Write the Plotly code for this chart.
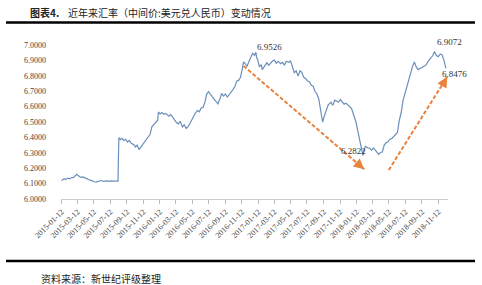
import plotly.graph_objects as go

# ---------------- data ----------------
dates_2015 = ["2015-01-12","2015-01-16","2015-01-22","2015-01-28","2015-02-04","2015-02-11","2015-02-17","2015-02-26",
              "2015-03-04","2015-03-09","2015-03-13","2015-03-19","2015-03-25","2015-04-01","2015-04-08","2015-04-15",
              "2015-04-22","2015-04-29","2015-05-06","2015-05-13","2015-05-20","2015-05-27","2015-06-03","2015-06-10",
              "2015-06-17","2015-06-24","2015-07-01","2015-07-08","2015-07-15","2015-07-22","2015-07-29","2015-08-05",
              "2015-08-10","2015-08-11","2015-08-12","2015-08-13","2015-08-19","2015-08-25","2015-08-31","2015-09-07",
              "2015-09-14","2015-09-21","2015-09-28","2015-10-08","2015-10-14","2015-10-20","2015-10-27","2015-11-03",
              "2015-11-10","2015-11-17","2015-11-24","2015-11-30","2015-12-07","2015-12-14","2015-12-21","2015-12-28"]
rates_2015 = [6.120,6.126,6.132,6.127,6.136,6.131,6.138,6.140,
              6.152,6.160,6.154,6.147,6.140,6.143,6.135,6.132,
              6.127,6.124,6.118,6.112,6.110,6.114,6.118,6.120,
              6.114,6.117,6.117,6.114,6.118,6.116,6.117,6.116,
              6.116,6.230,6.331,6.398,6.385,6.394,6.380,6.388,
              6.370,6.380,6.362,6.352,6.338,6.350,6.320,6.336,
              6.358,6.372,6.385,6.400,6.420,6.470,6.482,6.493]

dates_2016 = ["2016-01-04","2016-01-07","2016-01-13","2016-01-20","2016-01-27","2016-02-03","2016-02-15","2016-02-22",
              "2016-02-29","2016-03-07","2016-03-14","2016-03-21","2016-03-28","2016-04-05","2016-04-12","2016-04-19",
              "2016-04-26","2016-05-03","2016-05-10","2016-05-17","2016-05-24","2016-05-31","2016-06-07","2016-06-14",
              "2016-06-21","2016-06-28","2016-07-04","2016-07-11","2016-07-18","2016-07-25","2016-08-01","2016-08-08",
              "2016-08-15","2016-08-22","2016-08-29","2016-09-05","2016-09-12","2016-09-19","2016-09-26","2016-10-10",
              "2016-10-17","2016-10-24","2016-10-31","2016-11-07","2016-11-14","2016-11-18","2016-11-25","2016-12-01",
              "2016-12-08","2016-12-15","2016-12-22","2016-12-29"]
rates_2016 = [6.510,6.565,6.552,6.562,6.550,6.556,6.538,6.548,
              6.528,6.512,6.496,6.488,6.505,6.468,6.482,6.458,
              6.470,6.490,6.515,6.545,6.560,6.575,6.566,6.592,
              6.594,6.630,6.680,6.697,6.684,6.665,6.648,6.632,
              6.618,6.648,6.686,6.668,6.682,6.662,6.676,6.710,
              6.730,6.765,6.770,6.790,6.850,6.890,6.878,6.860,
              6.892,6.920,6.946,6.932]

dates_2017 = ["2017-01-03","2017-01-06","2017-01-10","2017-01-16","2017-01-23","2017-01-27","2017-02-06","2017-02-13",
              "2017-02-20","2017-02-27","2017-03-06","2017-03-13","2017-03-20","2017-03-27","2017-04-05","2017-04-12",
              "2017-04-19","2017-04-26","2017-05-05","2017-05-12","2017-05-19","2017-05-26","2017-06-02","2017-06-09",
              "2017-06-16","2017-06-23","2017-06-30","2017-07-07","2017-07-14","2017-07-21","2017-07-28","2017-08-04",
              "2017-08-11","2017-08-18","2017-08-25","2017-09-01","2017-09-08","2017-09-15","2017-09-22","2017-09-29",
              "2017-10-09","2017-10-16","2017-10-23","2017-10-30","2017-11-06","2017-11-13","2017-11-20","2017-11-27",
              "2017-12-04","2017-12-11","2017-12-18","2017-12-25"]
rates_2017 = [6.9526,6.918,6.905,6.858,6.872,6.840,6.872,6.886,
              6.868,6.882,6.896,6.902,6.882,6.894,6.878,6.887,
              6.870,6.895,6.888,6.896,6.858,6.820,6.832,6.798,
              6.832,6.822,6.790,6.782,6.766,6.762,6.738,6.732,
              6.698,6.682,6.648,6.570,6.500,6.542,6.585,6.612,
              6.628,6.608,6.642,6.632,6.628,6.646,6.628,6.616,
              6.622,6.612,6.600,6.585]

dates_2018 = ["2018-01-03","2018-01-10","2018-01-17","2018-01-24","2018-01-31","2018-02-05","2018-02-09","2018-02-14",
              "2018-02-23","2018-03-02","2018-03-09","2018-03-16","2018-03-23","2018-03-30","2018-04-04","2018-04-11",
              "2018-04-18","2018-04-25","2018-05-02","2018-05-09","2018-05-16","2018-05-23","2018-05-30","2018-06-06",
              "2018-06-13","2018-06-20","2018-06-27","2018-07-04","2018-07-11","2018-07-18","2018-07-25","2018-08-01",
              "2018-08-08","2018-08-15","2018-08-22","2018-08-29","2018-09-05","2018-09-12","2018-09-19","2018-09-26",
              "2018-10-08","2018-10-15","2018-10-22","2018-10-29","2018-11-05","2018-11-12","2018-11-19","2018-11-26",
              "2018-12-03","2018-12-10"]
rates_2018 = [6.540,6.500,6.440,6.380,6.330,6.2822,6.320,6.342,
              6.332,6.330,6.316,6.332,6.318,6.300,6.290,6.302,
              6.305,6.350,6.365,6.372,6.388,6.392,6.408,6.418,
              6.432,6.510,6.560,6.640,6.680,6.730,6.770,6.816,
              6.860,6.890,6.858,6.840,6.848,6.852,6.862,6.868,
              6.900,6.914,6.930,6.957,6.932,6.924,6.942,6.935,
              6.900,6.8476]

dates = dates_2015 + dates_2016 + dates_2017 + dates_2018
rates = rates_2015 + rates_2016 + rates_2017 + rates_2018

label_texts = ["6.9526", "6.9072", "6.8476", "6.2822"]
label_x = ["2016-12-29", "2018-11-01", "2018-11-17", "2017-11-09"]
label_y = [6.985, 6.975, 6.812, 6.314]
label_anchor = ["middle", "bottom", "middle", "middle"]

arrow_start_x = ["2016-11-18", "2018-05-12"]
arrow_start_y = [6.864, 6.188]
arrow_end_x = ["2018-02-10", "2018-12-15"]
arrow_end_y = [6.193, 6.794]
arrow_head_off = [(-7, -6), (-4, 7)]

title_bold = "图表4."
title_text = "近年来汇率（中间价:美元兑人民币）变动情况"
source_text = "资料来源：新世纪评级整理"

# ---------------- layout helpers ----------------
W, H = 482, 285
L, R, T, B = 61, 34, 45, 86
PW, PH = W - L - R, H - T - B

def px(x):
    return (x - L) / PW

def py(y):
    return (H - B - y) / PH

ORANGE = "#E8823F"
serif = "Liberation Serif, Times New Roman, serif"
cjk = "Noto Sans CJK SC, sans-serif"

fig = go.Figure()
fig.add_trace(go.Scatter(x=dates, y=rates, mode="lines",
                         line=dict(color="#6A8FBA", width=1.2),
                         hoverinfo="x+y", showlegend=False))

annotations = []
shapes = []
for sx, sy, ex, ey, off in zip(arrow_start_x, arrow_start_y, arrow_end_x, arrow_end_y, arrow_head_off):
    shapes.append(dict(type="line", xref="x", yref="y", x0=sx, y0=sy, x1=ex, y1=ey,
                       line=dict(color=ORANGE, width=2, dash="4px,2px")))
    annotations.append(dict(x=ex, y=ey, xref="x", yref="y", ax=off[0], ay=off[1],
                            text="", showarrow=True, arrowhead=2, arrowsize=1.05,
                            arrowwidth=2, arrowcolor=ORANGE, standoff=0, startstandoff=0))

for t, x, y, a in zip(label_texts, label_x, label_y, label_anchor):
    annotations.append(dict(x=x, y=y, xref="x", yref="y", text=t, showarrow=False,
                            xanchor="left", yanchor=a,
                            font=dict(family=serif, size=9, color="#333333")))

# title and source
annotations.append(dict(x=px(28), y=py(12.5), xref="paper", yref="paper", text="<b>" + title_bold + "</b>",
                        showarrow=False, xanchor="left", yanchor="middle",
                        font=dict(family=cjk, size=10, color="#222222")))
annotations.append(dict(x=px(66), y=py(12.5), xref="paper", yref="paper", text=title_text,
                        showarrow=False, xanchor="left", yanchor="middle",
                        font=dict(family=cjk, size=10, color="#222222")))
annotations.append(dict(x=px(39), y=py(278.5), xref="paper", yref="paper", text=source_text,
                        showarrow=False, xanchor="left", yanchor="middle",
                        font=dict(family=cjk, size=10, color="#222222")))

for yy in (22.5, 261):
    shapes.append(dict(type="line", xref="paper", yref="paper", x0=px(6), x1=px(475),
                       y0=py(yy), y1=py(yy), line=dict(color="#000000", width=2.5)))

fig.update_layout(
    width=W, height=H,
    margin=dict(l=L, r=R, t=T, b=B, pad=0),
    paper_bgcolor="white", plot_bgcolor="white",
    showlegend=False,
    annotations=annotations, shapes=shapes,
    xaxis=dict(type="date", range=["2015-01-10", "2018-12-18"],
               tick0="2015-01-12", dtick="M2", tickformat="%Y-%m-%d",
               tickangle=-45, ticks="outside", ticklen=4, tickcolor="#BBBBBB",
               showline=True, linecolor="#CCCCCC", linewidth=1,
               showgrid=False, zeroline=False,
               tickfont=dict(family=serif, size=8, color="#444444")),
    yaxis=dict(range=[6.0, 7.0], dtick=0.1, tick0=6.0, tickformat=".4f",
               showgrid=False, zeroline=False, showline=False, ticks="",
               ticklabelstandoff=14,
               tickfont=dict(family=serif, size=8, color="#444444")),
)

fig.write_html("out.html")
